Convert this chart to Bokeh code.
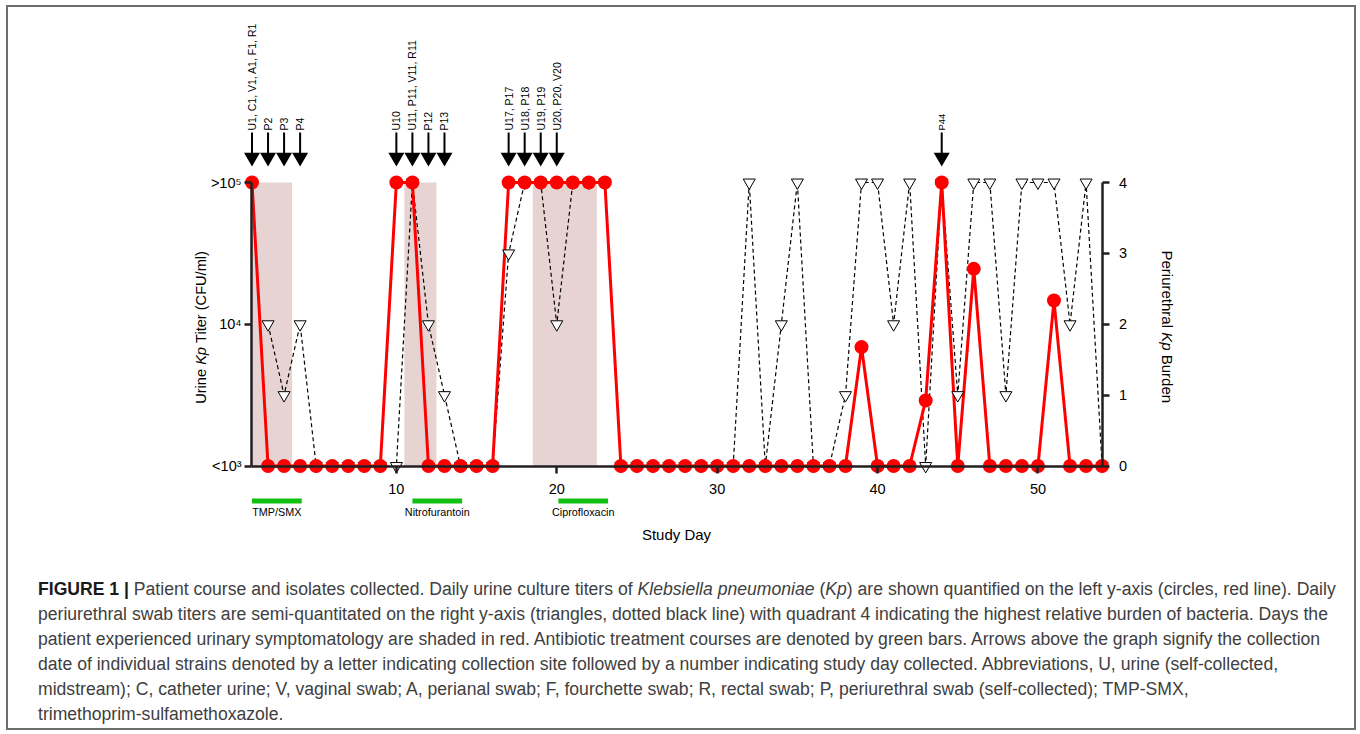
import math
from bokeh.plotting import figure
from bokeh.models import (Range1d, LinearAxis, FixedTicker, LinearScale, Label,
                          ColumnDataSource, Div, CustomJSTickFormatter)
from bokeh.layouts import column
from bokeh.core.properties import value
from bokeh.embed import file_html
from bokeh.resources import INLINE

# ---------------- data ----------------
days = list(range(1, 55))
urine_cfu = ([1e5] + [1e3] * 8 + [1e5, 1e5] + [1e3] * 5 + [1e5] * 7 + [1e3] * 15 +
             [6900] + [1e3] * 3 + [2900, 1e5, 1e3, 24600] + [1e3] * 4 + [14700] + [1e3] * 3)
periurethral_burden = ([float("nan"), 2, 1, 2] + [0] * 6 + [4, 2, 1] + [0] * 3 +
                       [3, 4, 4, 2, 4, 4, 4] + [0] * 8 +
                       [4, 0, 2, 4, 0, 0, 1, 4, 4, 2, 4, 0, 4, 1, 4, 4, 1, 4, 4, 4, 2, 4, 0])
symptom_start = [1.0, 10.5, 18.5]
symptom_end = [3.5, 12.5, 22.5]
abx_names = ["TMP/SMX", "Nitrofurantoin", "Ciprofloxacin"]
abx_start = [1.0, 11.0, 20.1]
abx_end = [4.1, 14.1, 23.2]
isolate_days = [1, 2, 3, 4, 10, 11, 12, 13, 17, 18, 19, 20, 44]
isolate_labels = ["U1, C1, V1, A1, F1, R1", "P2", "P3", "P4", "U10", "U11, P11, V11, R11",
                  "P12", "P13", "U17, P17", "U18, P18", "U19, P19", "U20, P20, V20", "P44"]
day_ticks = [10, 20, 30, 40, 50]
titer_ticks = [1000, 10000, 100000]
titer_tick_labels = ["<10³", "10⁴", ">10⁵"]
burden_ticks = [0, 1, 2, 3, 4]

# ---------------- geometry (page pixels) ----------------
OFF_X, OFF_Y = 8, 7            # figure origin on page
W = 1346
PX_DAY = 16.04
DAY1_PX = 251.5
FRAME_L, FRAME_R = 185, 1190
FRAME_T, FRAME_B = 18, 543
BOTTOM_PANEL = 30
H = FRAME_B + BOTTOM_PANEL - OFF_Y
Y_LOW = 465.5                  # page y of 10^3 / burden 0
DEC = 141.75                   # px per decade
BU = DEC / 2.0                 # px per burden unit


def bx(px):
    return 1 + (px - DAY1_PX) / PX_DAY


def by(py):
    return (Y_LOW - py) / BU


x0, x1 = bx(FRAME_L), bx(FRAME_R)
log_hi = 3 + (Y_LOW - FRAME_T) / DEC
log_lo = 3 - (FRAME_B - Y_LOW) / DEC

SANS = "Liberation Sans"

p = figure(width=W, height=H, x_range=Range1d(x0, x1),
           y_range=Range1d(10 ** log_lo, 10 ** log_hi), y_axis_type="log",
           output_backend="svg", toolbar_location=None,
           min_border_left=FRAME_L - OFF_X, min_border_right=OFF_X + W - FRAME_R,
           min_border_top=FRAME_T - OFF_Y, min_border_bottom=BOTTOM_PANEL)
p.extra_y_ranges = {"burden": Range1d(2 * (log_lo - 3), 2 * (log_hi - 3))}
p.extra_y_scales = {"burden": LinearScale()}
p.outline_line_color = None
p.xgrid.grid_line_color = None
p.ygrid.grid_line_color = None
p.background_fill_color = "white"
p.border_fill_color = "white"

AX_COL = "#231f20"


def style_axis(ax, size):
    ax.axis_line_width = 2.5
    ax.axis_line_color = AX_COL
    ax.major_tick_line_width = 2.5
    ax.major_tick_line_color = AX_COL
    ax.major_tick_in = 0
    ax.major_tick_out = 7
    ax.minor_tick_line_color = None
    ax.major_label_text_font = SANS
    ax.major_label_text_font_size = size
    ax.major_label_text_color = "black"


# x axis
xa = p.xaxis[0]
style_axis(xa, "14.5px")
xa.ticker = FixedTicker(ticks=day_ticks)
xa.fixed_location = 1000
xa.bounds = (0.97, 54)
xa.major_label_standoff = 11

# left log axis
ya = p.yaxis[0]
style_axis(ya, "14.5px")
ya.ticker = FixedTicker(ticks=titer_ticks)
ya.formatter = CustomJSTickFormatter(args=dict(vals=titer_ticks, labs=titer_tick_labels), code="""
for (let i = 0; i < vals.length; i++) {
  if (Math.abs(Math.log10(tick) - Math.log10(vals[i])) < 1e-6) { return labs[i]; }
}
return "";
""")
ya.fixed_location = 0.97
ya.bounds = (1000, 100000)
ya.major_label_standoff = 3

# right burden axis
ra = LinearAxis(y_range_name="burden", ticker=FixedTicker(ticks=burden_ticks))
style_axis(ra, "14.5px")
ra.fixed_location = 54
ra.bounds = (0, 4)
ra.major_label_standoff = 10
p.add_layout(ra, "right")

# symptom shading
p.quad(left=symptom_start, right=symptom_end, bottom=1000, top=100000,
       fill_color="#e8d3d3", line_color=None)

# periurethral dashed line
p.line(days, periurethral_burden, y_range_name="burden", line_color="black",
       line_width=1.2, line_dash="4 3")
# urine red line
p.line(days, urine_cfu, line_color="#ff0000", line_width=3)
# triangles
p.scatter(days, periurethral_burden, y_range_name="burden", marker="inverted_triangle",
          size=12, fill_color="white", line_color="black", line_width=1)
# circles
p.scatter(days, urine_cfu, marker="circle", size=14, fill_color="#ff0000",
          line_color=None)

# antibiotic bars
abx_mid = [(a + b) / 2 for a, b in zip(abx_start, abx_end)]
p.hbar(y=by(500.5), height=5 / BU, left=abx_start, right=abx_end,
       y_range_name="burden", fill_color="#12c012", line_color=None)
p.text(x=abx_mid, y=[by(511.5)] * 3, text=abx_names, y_range_name="burden",
       text_align="center", text_baseline="middle", text_font=value(SANS),
       text_font_size="10.8px", text_color="black")

# isolate arrows
p.segment(x0=isolate_days, y0=by(132), x1=isolate_days, y1=by(155),
          y_range_name="burden", line_color="black", line_width=2)
p.scatter(x=isolate_days, y=[by(156.8)] * len(isolate_days), y_range_name="burden",
          marker="inverted_triangle", size=16, fill_color="black", line_color=None)
iso_src = ColumnDataSource(dict(
    x=isolate_days, y=[by(130)] * len(isolate_days), t=isolate_labels,
    fs=["9.5px" if d == 44 else "10.5px" for d in isolate_days]))
p.text(x="x", y="y", text="t", source=iso_src, y_range_name="burden",
       angle=math.pi / 2, text_align="left", text_baseline="middle",
       text_font=value(SANS), text_font_size="fs", text_color="black")


# axis titles with italic Kp
def add_label(x, y, text, angle, size, italic=False, align="left"):
    p.add_layout(Label(x=x, y=y, text=text, y_range_name="burden", angle=angle,
                       text_align=align, text_baseline="middle", text_font=SANS,
                       text_font_size=f"{size}px",
                       text_font_style="italic" if italic else "normal",
                       text_color="black"))


fs_l = 14.6
sp_l = 0.278 * fs_l
w_urine = 2.389 * fs_l
w_kp = 1.223 * fs_l
lx = bx(200)
y_start = 403.3
add_label(lx, by(y_start), "Urine", math.pi / 2, fs_l)
y_kp = y_start - w_urine - sp_l
add_label(lx, by(y_kp), "Kp", math.pi / 2, fs_l, italic=True)
y_t = y_kp - w_kp - sp_l
add_label(lx, by(y_t), "Titer (CFU/ml)", math.pi / 2, fs_l)

fs_r = 15.0
sp_r = 0.278 * fs_r
w_peri = 5.168 * fs_r
w_kp_r = 1.223 * fs_r
rx = bx(1166.7)
y0r = 250.0
add_label(rx, by(y0r), "Periurethral", -math.pi / 2, fs_r)
y1r = y0r + w_peri + sp_r
add_label(rx, by(y1r), "Kp", -math.pi / 2, fs_r, italic=True)
y2r = y1r + w_kp_r + sp_r
add_label(rx, by(y2r), "Burden", -math.pi / 2, fs_r)

add_label(bx(676), by(534), "Study Day", 0, 15, align="center")

# ---------------- caption ----------------
caption_lines = [
    "<b style='color:#1a1a1a'>FIGURE 1 |</b> Patient course and isolates collected. Daily urine culture titers of <i>Klebsiella pneumoniae</i> (<i>Kp</i>) are shown quantified on the left y-axis (circles, red line). Daily",
    "periurethral swab titers are semi-quantitated on the right y-axis (triangles, dotted black line) with quadrant 4 indicating the highest relative burden of bacteria. Days the",
    "patient experienced urinary symptomatology are shaded in red. Antibiotic treatment courses are denoted by green bars. Arrows above the graph signify the collection",
    "date of individual strains denoted by a letter indicating collection site followed by a number indicating study day collected. Abbreviations, U, urine (self-collected,",
    "midstream); C, catheter urine; V, vaginal swab; A, perianal swab; F, fourchette swab; R, rectal swab; P, periurethral swab (self-collected); TMP-SMX,",
    "trimethoprim-sulfamethoxazole.",
]
caption_html = ("<div style=\"font-family:'Liberation Sans',Arial,sans-serif;font-size:17.6px;"
                "line-height:25px;color:#404040;white-space:nowrap;\">" +
                "<br>".join(caption_lines) + "</div>")
div = Div(text=caption_html, width=W - 30, height=151, margin=(4, 0, 0, 30))

layout = column(p, div, styles={"border": "2px solid #6e6e6e"}, width=1350,
                margin=(5, 0, 0, 6))
open("out.html", "w").write(file_html(layout, INLINE))
